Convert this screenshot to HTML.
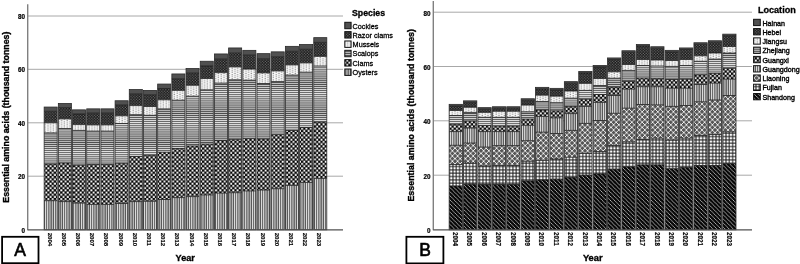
<!DOCTYPE html><html><head><meta charset="utf-8"><style>html,body{margin:0;padding:0;background:#fff;}svg{display:block;}text{font-family:"Liberation Sans",sans-serif;}svg{will-change:transform;}</style></head><body>
<svg width="800" height="264" viewBox="0 0 800 264">
<defs>
<pattern id="pCock" patternUnits="userSpaceOnUse" width="2" height="2"><rect width="2" height="2" fill="#505050"/></pattern>
<pattern id="pRaz" patternUnits="userSpaceOnUse" width="2.8" height="2.7"><rect width="2.8" height="2.7" fill="#121212"/><rect x="0.2" y="0.2" width="1.05" height="1.05" fill="#909090"/><rect x="1.6" y="1.55" width="1.05" height="1.05" fill="#909090"/></pattern>
<pattern id="pMus" patternUnits="userSpaceOnUse" width="5.5" height="4.2"><rect width="5.5" height="4.2" fill="#f8f8f8"/><rect x="0.6" y="0.5" width="1.1" height="1" fill="#7a7a7a"/><rect x="0.6" y="2.6" width="1.1" height="1" fill="#7a7a7a"/><rect x="3.35" y="1.55" width="1.1" height="1" fill="#7a7a7a"/><rect x="3.35" y="3.65" width="1.1" height="1" fill="#7a7a7a"/><rect x="3.35" y="-0.55" width="1.1" height="1" fill="#7a7a7a"/></pattern>
<pattern id="pSca" patternUnits="userSpaceOnUse" width="2" height="2.07"><rect width="2" height="2.07" fill="#e4e4e4"/><rect y="1.03" width="2" height="1.04" fill="#4c4c4c"/></pattern>
<pattern id="pClm" patternUnits="userSpaceOnUse" width="4.3" height="4.4"><rect width="4.3" height="4.4" fill="#050505"/><rect x="0.15" y="0.15" width="1.95" height="1.95" fill="#fcfcfc"/><rect x="2.3" y="2.35" width="1.95" height="1.95" fill="#fcfcfc"/></pattern>
<pattern id="pOys" patternUnits="userSpaceOnUse" width="2.25" height="2"><rect width="2.25" height="2" fill="#525252"/><rect width="1" height="2" fill="#ebebeb"/></pattern>
<pattern id="pLia" patternUnits="userSpaceOnUse" width="5.2" height="5.2"><rect width="5.2" height="5.2" fill="#555555"/><path d="M-1,-1L6.2,6.2M6.2,-1L-1,6.2" stroke="#ffffff" stroke-width="0.8"/></pattern>
<pattern id="pFuj" patternUnits="userSpaceOnUse" width="3.33" height="3.33"><rect width="3.33" height="3.33" fill="#202020"/><rect x="0.55" y="0.55" width="2.3" height="2.3" fill="#fcfcfc"/></pattern>
<pattern id="pSha" patternUnits="userSpaceOnUse" width="4.1" height="4.1"><rect width="4.1" height="4.1" fill="#080808"/><path d="M-1,-1L5.1,5.1M-1,3.1L1,5.1M3.1,-1L5.1,1" stroke="#d4d4d4" stroke-width="0.72"/></pattern>
</defs>
<rect width="800" height="264" fill="#fff"/>
<line x1="27.7" y1="16" x2="343" y2="16" stroke="#a8a8a8" stroke-width="1"/><line x1="27.7" y1="69.3" x2="343" y2="69.3" stroke="#a8a8a8" stroke-width="1"/><line x1="27.7" y1="122.8" x2="343" y2="122.8" stroke="#a8a8a8" stroke-width="1"/><line x1="27.7" y1="176.2" x2="343" y2="176.2" stroke="#a8a8a8" stroke-width="1"/><rect x="44.15" y="107.05" width="13.04" height="4.25" fill="url(#pCock)"/><rect x="44.15" y="111.3" width="13.04" height="11.5" fill="url(#pRaz)"/><rect x="44.15" y="122.8" width="13.04" height="10.1" fill="url(#pMus)"/><rect x="44.15" y="132.9" width="13.04" height="31.1" fill="url(#pSca)"/><rect x="44.15" y="164" width="13.04" height="36.7" fill="url(#pClm)"/><rect x="44.15" y="200.7" width="13.04" height="29.1" fill="url(#pOys)"/><line x1="44.15" y1="111.3" x2="57.19" y2="111.3" stroke="#1a1a1a" stroke-width="0.8"/><line x1="44.15" y1="122.8" x2="57.19" y2="122.8" stroke="#1a1a1a" stroke-width="0.8"/><line x1="44.15" y1="132.9" x2="57.19" y2="132.9" stroke="#1a1a1a" stroke-width="0.8"/><line x1="44.15" y1="164" x2="57.19" y2="164" stroke="#1a1a1a" stroke-width="0.8"/><line x1="44.15" y1="200.7" x2="57.19" y2="200.7" stroke="#1a1a1a" stroke-width="0.8"/><rect x="44.15" y="107.05" width="13.04" height="122.75" fill="none" stroke="#2a2a2a" stroke-width="0.8"/><rect x="58.34" y="103.45" width="13.04" height="4.15" fill="url(#pCock)"/><rect x="58.34" y="107.6" width="13.04" height="11.3" fill="url(#pRaz)"/><rect x="58.34" y="118.9" width="13.04" height="9.6" fill="url(#pMus)"/><rect x="58.34" y="128.5" width="13.04" height="34.5" fill="url(#pSca)"/><rect x="58.34" y="163" width="13.04" height="38.6" fill="url(#pClm)"/><rect x="58.34" y="201.6" width="13.04" height="28.2" fill="url(#pOys)"/><line x1="58.34" y1="107.6" x2="71.38" y2="107.6" stroke="#1a1a1a" stroke-width="0.8"/><line x1="58.34" y1="118.9" x2="71.38" y2="118.9" stroke="#1a1a1a" stroke-width="0.8"/><line x1="58.34" y1="128.5" x2="71.38" y2="128.5" stroke="#1a1a1a" stroke-width="0.8"/><line x1="58.34" y1="163" x2="71.38" y2="163" stroke="#1a1a1a" stroke-width="0.8"/><line x1="58.34" y1="201.6" x2="71.38" y2="201.6" stroke="#1a1a1a" stroke-width="0.8"/><rect x="58.34" y="103.45" width="13.04" height="126.35" fill="none" stroke="#2a2a2a" stroke-width="0.8"/><rect x="72.53" y="109.85" width="13.04" height="4.15" fill="url(#pCock)"/><rect x="72.53" y="114" width="13.04" height="10.6" fill="url(#pRaz)"/><rect x="72.53" y="124.6" width="13.04" height="5.8" fill="url(#pMus)"/><rect x="72.53" y="130.4" width="13.04" height="34.7" fill="url(#pSca)"/><rect x="72.53" y="165.1" width="13.04" height="38" fill="url(#pClm)"/><rect x="72.53" y="203.1" width="13.04" height="26.7" fill="url(#pOys)"/><line x1="72.53" y1="114" x2="85.57" y2="114" stroke="#1a1a1a" stroke-width="0.8"/><line x1="72.53" y1="124.6" x2="85.57" y2="124.6" stroke="#1a1a1a" stroke-width="0.8"/><line x1="72.53" y1="130.4" x2="85.57" y2="130.4" stroke="#1a1a1a" stroke-width="0.8"/><line x1="72.53" y1="165.1" x2="85.57" y2="165.1" stroke="#1a1a1a" stroke-width="0.8"/><line x1="72.53" y1="203.1" x2="85.57" y2="203.1" stroke="#1a1a1a" stroke-width="0.8"/><rect x="72.53" y="109.85" width="13.04" height="119.95" fill="none" stroke="#2a2a2a" stroke-width="0.8"/><rect x="86.72" y="108.85" width="13.04" height="4.25" fill="url(#pCock)"/><rect x="86.72" y="113.1" width="13.04" height="11.8" fill="url(#pRaz)"/><rect x="86.72" y="124.9" width="13.04" height="6.2" fill="url(#pMus)"/><rect x="86.72" y="131.1" width="13.04" height="33.3" fill="url(#pSca)"/><rect x="86.72" y="164.4" width="13.04" height="40" fill="url(#pClm)"/><rect x="86.72" y="204.4" width="13.04" height="25.4" fill="url(#pOys)"/><line x1="86.72" y1="113.1" x2="99.76" y2="113.1" stroke="#1a1a1a" stroke-width="0.8"/><line x1="86.72" y1="124.9" x2="99.76" y2="124.9" stroke="#1a1a1a" stroke-width="0.8"/><line x1="86.72" y1="131.1" x2="99.76" y2="131.1" stroke="#1a1a1a" stroke-width="0.8"/><line x1="86.72" y1="164.4" x2="99.76" y2="164.4" stroke="#1a1a1a" stroke-width="0.8"/><line x1="86.72" y1="204.4" x2="99.76" y2="204.4" stroke="#1a1a1a" stroke-width="0.8"/><rect x="86.72" y="108.85" width="13.04" height="120.95" fill="none" stroke="#2a2a2a" stroke-width="0.8"/><rect x="100.91" y="108.85" width="13.04" height="4.25" fill="url(#pCock)"/><rect x="100.91" y="113.1" width="13.04" height="11.8" fill="url(#pRaz)"/><rect x="100.91" y="124.9" width="13.04" height="6.2" fill="url(#pMus)"/><rect x="100.91" y="131.1" width="13.04" height="33.3" fill="url(#pSca)"/><rect x="100.91" y="164.4" width="13.04" height="40" fill="url(#pClm)"/><rect x="100.91" y="204.4" width="13.04" height="25.4" fill="url(#pOys)"/><line x1="100.91" y1="113.1" x2="113.95" y2="113.1" stroke="#1a1a1a" stroke-width="0.8"/><line x1="100.91" y1="124.9" x2="113.95" y2="124.9" stroke="#1a1a1a" stroke-width="0.8"/><line x1="100.91" y1="131.1" x2="113.95" y2="131.1" stroke="#1a1a1a" stroke-width="0.8"/><line x1="100.91" y1="164.4" x2="113.95" y2="164.4" stroke="#1a1a1a" stroke-width="0.8"/><line x1="100.91" y1="204.4" x2="113.95" y2="204.4" stroke="#1a1a1a" stroke-width="0.8"/><rect x="100.91" y="108.85" width="13.04" height="120.95" fill="none" stroke="#2a2a2a" stroke-width="0.8"/><rect x="115.1" y="100.75" width="13.04" height="4.15" fill="url(#pCock)"/><rect x="115.1" y="104.9" width="13.04" height="10.9" fill="url(#pRaz)"/><rect x="115.1" y="115.8" width="13.04" height="7.7" fill="url(#pMus)"/><rect x="115.1" y="123.5" width="13.04" height="39.8" fill="url(#pSca)"/><rect x="115.1" y="163.3" width="13.04" height="40.2" fill="url(#pClm)"/><rect x="115.1" y="203.5" width="13.04" height="26.3" fill="url(#pOys)"/><line x1="115.1" y1="104.9" x2="128.14" y2="104.9" stroke="#1a1a1a" stroke-width="0.8"/><line x1="115.1" y1="115.8" x2="128.14" y2="115.8" stroke="#1a1a1a" stroke-width="0.8"/><line x1="115.1" y1="123.5" x2="128.14" y2="123.5" stroke="#1a1a1a" stroke-width="0.8"/><line x1="115.1" y1="163.3" x2="128.14" y2="163.3" stroke="#1a1a1a" stroke-width="0.8"/><line x1="115.1" y1="203.5" x2="128.14" y2="203.5" stroke="#1a1a1a" stroke-width="0.8"/><rect x="115.1" y="100.75" width="13.04" height="129.05" fill="none" stroke="#2a2a2a" stroke-width="0.8"/><rect x="129.29" y="89.55" width="13.04" height="4.25" fill="url(#pCock)"/><rect x="129.29" y="93.8" width="13.04" height="11.8" fill="url(#pRaz)"/><rect x="129.29" y="105.6" width="13.04" height="9.1" fill="url(#pMus)"/><rect x="129.29" y="114.7" width="13.04" height="41.8" fill="url(#pSca)"/><rect x="129.29" y="156.5" width="13.04" height="45.1" fill="url(#pClm)"/><rect x="129.29" y="201.6" width="13.04" height="28.2" fill="url(#pOys)"/><line x1="129.29" y1="93.8" x2="142.33" y2="93.8" stroke="#1a1a1a" stroke-width="0.8"/><line x1="129.29" y1="105.6" x2="142.33" y2="105.6" stroke="#1a1a1a" stroke-width="0.8"/><line x1="129.29" y1="114.7" x2="142.33" y2="114.7" stroke="#1a1a1a" stroke-width="0.8"/><line x1="129.29" y1="156.5" x2="142.33" y2="156.5" stroke="#1a1a1a" stroke-width="0.8"/><line x1="129.29" y1="201.6" x2="142.33" y2="201.6" stroke="#1a1a1a" stroke-width="0.8"/><rect x="129.29" y="89.55" width="13.04" height="140.25" fill="none" stroke="#2a2a2a" stroke-width="0.8"/><rect x="143.48" y="90.45" width="13.04" height="4.25" fill="url(#pCock)"/><rect x="143.48" y="94.7" width="13.04" height="11.8" fill="url(#pRaz)"/><rect x="143.48" y="106.5" width="13.04" height="8.8" fill="url(#pMus)"/><rect x="143.48" y="115.3" width="13.04" height="40" fill="url(#pSca)"/><rect x="143.48" y="155.3" width="13.04" height="46" fill="url(#pClm)"/><rect x="143.48" y="201.3" width="13.04" height="28.5" fill="url(#pOys)"/><line x1="143.48" y1="94.7" x2="156.52" y2="94.7" stroke="#1a1a1a" stroke-width="0.8"/><line x1="143.48" y1="106.5" x2="156.52" y2="106.5" stroke="#1a1a1a" stroke-width="0.8"/><line x1="143.48" y1="115.3" x2="156.52" y2="115.3" stroke="#1a1a1a" stroke-width="0.8"/><line x1="143.48" y1="155.3" x2="156.52" y2="155.3" stroke="#1a1a1a" stroke-width="0.8"/><line x1="143.48" y1="201.3" x2="156.52" y2="201.3" stroke="#1a1a1a" stroke-width="0.8"/><rect x="143.48" y="90.45" width="13.04" height="139.35" fill="none" stroke="#2a2a2a" stroke-width="0.8"/><rect x="157.67" y="84.05" width="13.04" height="4.45" fill="url(#pCock)"/><rect x="157.67" y="88.5" width="13.04" height="11.3" fill="url(#pRaz)"/><rect x="157.67" y="99.8" width="13.04" height="9.1" fill="url(#pMus)"/><rect x="157.67" y="108.9" width="13.04" height="43.3" fill="url(#pSca)"/><rect x="157.67" y="152.2" width="13.04" height="47.3" fill="url(#pClm)"/><rect x="157.67" y="199.5" width="13.04" height="30.3" fill="url(#pOys)"/><line x1="157.67" y1="88.5" x2="170.71" y2="88.5" stroke="#1a1a1a" stroke-width="0.8"/><line x1="157.67" y1="99.8" x2="170.71" y2="99.8" stroke="#1a1a1a" stroke-width="0.8"/><line x1="157.67" y1="108.9" x2="170.71" y2="108.9" stroke="#1a1a1a" stroke-width="0.8"/><line x1="157.67" y1="152.2" x2="170.71" y2="152.2" stroke="#1a1a1a" stroke-width="0.8"/><line x1="157.67" y1="199.5" x2="170.71" y2="199.5" stroke="#1a1a1a" stroke-width="0.8"/><rect x="157.67" y="84.05" width="13.04" height="145.75" fill="none" stroke="#2a2a2a" stroke-width="0.8"/><rect x="171.86" y="73.95" width="13.04" height="4.75" fill="url(#pCock)"/><rect x="171.86" y="78.7" width="13.04" height="11.7" fill="url(#pRaz)"/><rect x="171.86" y="90.4" width="13.04" height="9.8" fill="url(#pMus)"/><rect x="171.86" y="100.2" width="13.04" height="48.3" fill="url(#pSca)"/><rect x="171.86" y="148.5" width="13.04" height="49.1" fill="url(#pClm)"/><rect x="171.86" y="197.6" width="13.04" height="32.2" fill="url(#pOys)"/><line x1="171.86" y1="78.7" x2="184.9" y2="78.7" stroke="#1a1a1a" stroke-width="0.8"/><line x1="171.86" y1="90.4" x2="184.9" y2="90.4" stroke="#1a1a1a" stroke-width="0.8"/><line x1="171.86" y1="100.2" x2="184.9" y2="100.2" stroke="#1a1a1a" stroke-width="0.8"/><line x1="171.86" y1="148.5" x2="184.9" y2="148.5" stroke="#1a1a1a" stroke-width="0.8"/><line x1="171.86" y1="197.6" x2="184.9" y2="197.6" stroke="#1a1a1a" stroke-width="0.8"/><rect x="171.86" y="73.95" width="13.04" height="155.85" fill="none" stroke="#2a2a2a" stroke-width="0.8"/><rect x="186.05" y="68.55" width="13.04" height="4.55" fill="url(#pCock)"/><rect x="186.05" y="73.1" width="13.04" height="12.2" fill="url(#pRaz)"/><rect x="186.05" y="85.3" width="13.04" height="10.9" fill="url(#pMus)"/><rect x="186.05" y="96.2" width="13.04" height="49.8" fill="url(#pSca)"/><rect x="186.05" y="146" width="13.04" height="50.6" fill="url(#pClm)"/><rect x="186.05" y="196.6" width="13.04" height="33.2" fill="url(#pOys)"/><line x1="186.05" y1="73.1" x2="199.09" y2="73.1" stroke="#1a1a1a" stroke-width="0.8"/><line x1="186.05" y1="85.3" x2="199.09" y2="85.3" stroke="#1a1a1a" stroke-width="0.8"/><line x1="186.05" y1="96.2" x2="199.09" y2="96.2" stroke="#1a1a1a" stroke-width="0.8"/><line x1="186.05" y1="146" x2="199.09" y2="146" stroke="#1a1a1a" stroke-width="0.8"/><line x1="186.05" y1="196.6" x2="199.09" y2="196.6" stroke="#1a1a1a" stroke-width="0.8"/><rect x="186.05" y="68.55" width="13.04" height="161.25" fill="none" stroke="#2a2a2a" stroke-width="0.8"/><rect x="200.24" y="61.25" width="13.04" height="4.75" fill="url(#pCock)"/><rect x="200.24" y="66" width="13.04" height="12.5" fill="url(#pRaz)"/><rect x="200.24" y="78.5" width="13.04" height="11.3" fill="url(#pMus)"/><rect x="200.24" y="89.8" width="13.04" height="54.4" fill="url(#pSca)"/><rect x="200.24" y="144.2" width="13.04" height="50.7" fill="url(#pClm)"/><rect x="200.24" y="194.9" width="13.04" height="34.9" fill="url(#pOys)"/><line x1="200.24" y1="66" x2="213.28" y2="66" stroke="#1a1a1a" stroke-width="0.8"/><line x1="200.24" y1="78.5" x2="213.28" y2="78.5" stroke="#1a1a1a" stroke-width="0.8"/><line x1="200.24" y1="89.8" x2="213.28" y2="89.8" stroke="#1a1a1a" stroke-width="0.8"/><line x1="200.24" y1="144.2" x2="213.28" y2="144.2" stroke="#1a1a1a" stroke-width="0.8"/><line x1="200.24" y1="194.9" x2="213.28" y2="194.9" stroke="#1a1a1a" stroke-width="0.8"/><rect x="200.24" y="61.25" width="13.04" height="168.55" fill="none" stroke="#2a2a2a" stroke-width="0.8"/><rect x="214.43" y="53.95" width="13.04" height="5.15" fill="url(#pCock)"/><rect x="214.43" y="59.1" width="13.04" height="13.6" fill="url(#pRaz)"/><rect x="214.43" y="72.7" width="13.04" height="10.4" fill="url(#pMus)"/><rect x="214.43" y="83.1" width="13.04" height="57.4" fill="url(#pSca)"/><rect x="214.43" y="140.5" width="13.04" height="52.6" fill="url(#pClm)"/><rect x="214.43" y="193.1" width="13.04" height="36.7" fill="url(#pOys)"/><line x1="214.43" y1="59.1" x2="227.47" y2="59.1" stroke="#1a1a1a" stroke-width="0.8"/><line x1="214.43" y1="72.7" x2="227.47" y2="72.7" stroke="#1a1a1a" stroke-width="0.8"/><line x1="214.43" y1="83.1" x2="227.47" y2="83.1" stroke="#1a1a1a" stroke-width="0.8"/><line x1="214.43" y1="140.5" x2="227.47" y2="140.5" stroke="#1a1a1a" stroke-width="0.8"/><line x1="214.43" y1="193.1" x2="227.47" y2="193.1" stroke="#1a1a1a" stroke-width="0.8"/><rect x="214.43" y="53.95" width="13.04" height="175.85" fill="none" stroke="#2a2a2a" stroke-width="0.8"/><rect x="228.62" y="47.95" width="13.04" height="5.15" fill="url(#pCock)"/><rect x="228.62" y="53.1" width="13.04" height="13.8" fill="url(#pRaz)"/><rect x="228.62" y="66.9" width="13.04" height="12.9" fill="url(#pMus)"/><rect x="228.62" y="79.8" width="13.04" height="59.8" fill="url(#pSca)"/><rect x="228.62" y="139.6" width="13.04" height="53.1" fill="url(#pClm)"/><rect x="228.62" y="192.7" width="13.04" height="37.1" fill="url(#pOys)"/><line x1="228.62" y1="53.1" x2="241.66" y2="53.1" stroke="#1a1a1a" stroke-width="0.8"/><line x1="228.62" y1="66.9" x2="241.66" y2="66.9" stroke="#1a1a1a" stroke-width="0.8"/><line x1="228.62" y1="79.8" x2="241.66" y2="79.8" stroke="#1a1a1a" stroke-width="0.8"/><line x1="228.62" y1="139.6" x2="241.66" y2="139.6" stroke="#1a1a1a" stroke-width="0.8"/><line x1="228.62" y1="192.7" x2="241.66" y2="192.7" stroke="#1a1a1a" stroke-width="0.8"/><rect x="228.62" y="47.95" width="13.04" height="181.85" fill="none" stroke="#2a2a2a" stroke-width="0.8"/><rect x="242.81" y="50.35" width="13.04" height="4.75" fill="url(#pCock)"/><rect x="242.81" y="55.1" width="13.04" height="14" fill="url(#pRaz)"/><rect x="242.81" y="69.1" width="13.04" height="11.1" fill="url(#pMus)"/><rect x="242.81" y="80.2" width="13.04" height="58.5" fill="url(#pSca)"/><rect x="242.81" y="138.7" width="13.04" height="52.2" fill="url(#pClm)"/><rect x="242.81" y="190.9" width="13.04" height="38.9" fill="url(#pOys)"/><line x1="242.81" y1="55.1" x2="255.85" y2="55.1" stroke="#1a1a1a" stroke-width="0.8"/><line x1="242.81" y1="69.1" x2="255.85" y2="69.1" stroke="#1a1a1a" stroke-width="0.8"/><line x1="242.81" y1="80.2" x2="255.85" y2="80.2" stroke="#1a1a1a" stroke-width="0.8"/><line x1="242.81" y1="138.7" x2="255.85" y2="138.7" stroke="#1a1a1a" stroke-width="0.8"/><line x1="242.81" y1="190.9" x2="255.85" y2="190.9" stroke="#1a1a1a" stroke-width="0.8"/><rect x="242.81" y="50.35" width="13.04" height="179.45" fill="none" stroke="#2a2a2a" stroke-width="0.8"/><rect x="257" y="53.65" width="13.04" height="5.05" fill="url(#pCock)"/><rect x="257" y="58.7" width="13.04" height="14.2" fill="url(#pRaz)"/><rect x="257" y="72.9" width="13.04" height="10.6" fill="url(#pMus)"/><rect x="257" y="83.5" width="13.04" height="55.6" fill="url(#pSca)"/><rect x="257" y="139.1" width="13.04" height="50.9" fill="url(#pClm)"/><rect x="257" y="190" width="13.04" height="39.8" fill="url(#pOys)"/><line x1="257" y1="58.7" x2="270.04" y2="58.7" stroke="#1a1a1a" stroke-width="0.8"/><line x1="257" y1="72.9" x2="270.04" y2="72.9" stroke="#1a1a1a" stroke-width="0.8"/><line x1="257" y1="83.5" x2="270.04" y2="83.5" stroke="#1a1a1a" stroke-width="0.8"/><line x1="257" y1="139.1" x2="270.04" y2="139.1" stroke="#1a1a1a" stroke-width="0.8"/><line x1="257" y1="190" x2="270.04" y2="190" stroke="#1a1a1a" stroke-width="0.8"/><rect x="257" y="53.65" width="13.04" height="176.15" fill="none" stroke="#2a2a2a" stroke-width="0.8"/><rect x="271.19" y="51.85" width="13.04" height="4.85" fill="url(#pCock)"/><rect x="271.19" y="56.7" width="13.04" height="14.2" fill="url(#pRaz)"/><rect x="271.19" y="70.9" width="13.04" height="10.7" fill="url(#pMus)"/><rect x="271.19" y="81.6" width="13.04" height="53.1" fill="url(#pSca)"/><rect x="271.19" y="134.7" width="13.04" height="54" fill="url(#pClm)"/><rect x="271.19" y="188.7" width="13.04" height="41.1" fill="url(#pOys)"/><line x1="271.19" y1="56.7" x2="284.23" y2="56.7" stroke="#1a1a1a" stroke-width="0.8"/><line x1="271.19" y1="70.9" x2="284.23" y2="70.9" stroke="#1a1a1a" stroke-width="0.8"/><line x1="271.19" y1="81.6" x2="284.23" y2="81.6" stroke="#1a1a1a" stroke-width="0.8"/><line x1="271.19" y1="134.7" x2="284.23" y2="134.7" stroke="#1a1a1a" stroke-width="0.8"/><line x1="271.19" y1="188.7" x2="284.23" y2="188.7" stroke="#1a1a1a" stroke-width="0.8"/><rect x="271.19" y="51.85" width="13.04" height="177.95" fill="none" stroke="#2a2a2a" stroke-width="0.8"/><rect x="285.38" y="46.35" width="13.04" height="4.95" fill="url(#pCock)"/><rect x="285.38" y="51.3" width="13.04" height="13.6" fill="url(#pRaz)"/><rect x="285.38" y="64.9" width="13.04" height="10.2" fill="url(#pMus)"/><rect x="285.38" y="75.1" width="13.04" height="55.4" fill="url(#pSca)"/><rect x="285.38" y="130.5" width="13.04" height="54.9" fill="url(#pClm)"/><rect x="285.38" y="185.4" width="13.04" height="44.4" fill="url(#pOys)"/><line x1="285.38" y1="51.3" x2="298.42" y2="51.3" stroke="#1a1a1a" stroke-width="0.8"/><line x1="285.38" y1="64.9" x2="298.42" y2="64.9" stroke="#1a1a1a" stroke-width="0.8"/><line x1="285.38" y1="75.1" x2="298.42" y2="75.1" stroke="#1a1a1a" stroke-width="0.8"/><line x1="285.38" y1="130.5" x2="298.42" y2="130.5" stroke="#1a1a1a" stroke-width="0.8"/><line x1="285.38" y1="185.4" x2="298.42" y2="185.4" stroke="#1a1a1a" stroke-width="0.8"/><rect x="285.38" y="46.35" width="13.04" height="183.45" fill="none" stroke="#2a2a2a" stroke-width="0.8"/><rect x="299.57" y="44.55" width="13.04" height="4.75" fill="url(#pCock)"/><rect x="299.57" y="49.3" width="13.04" height="13.6" fill="url(#pRaz)"/><rect x="299.57" y="62.9" width="13.04" height="9.3" fill="url(#pMus)"/><rect x="299.57" y="72.2" width="13.04" height="55.3" fill="url(#pSca)"/><rect x="299.57" y="127.5" width="13.04" height="54.9" fill="url(#pClm)"/><rect x="299.57" y="182.4" width="13.04" height="47.4" fill="url(#pOys)"/><line x1="299.57" y1="49.3" x2="312.61" y2="49.3" stroke="#1a1a1a" stroke-width="0.8"/><line x1="299.57" y1="62.9" x2="312.61" y2="62.9" stroke="#1a1a1a" stroke-width="0.8"/><line x1="299.57" y1="72.2" x2="312.61" y2="72.2" stroke="#1a1a1a" stroke-width="0.8"/><line x1="299.57" y1="127.5" x2="312.61" y2="127.5" stroke="#1a1a1a" stroke-width="0.8"/><line x1="299.57" y1="182.4" x2="312.61" y2="182.4" stroke="#1a1a1a" stroke-width="0.8"/><rect x="299.57" y="44.55" width="13.04" height="185.25" fill="none" stroke="#2a2a2a" stroke-width="0.8"/><rect x="313.76" y="37.65" width="13.04" height="4.75" fill="url(#pCock)"/><rect x="313.76" y="42.4" width="13.04" height="14" fill="url(#pRaz)"/><rect x="313.76" y="56.4" width="13.04" height="9.6" fill="url(#pMus)"/><rect x="313.76" y="66" width="13.04" height="56.2" fill="url(#pSca)"/><rect x="313.76" y="122.2" width="13.04" height="56.2" fill="url(#pClm)"/><rect x="313.76" y="178.4" width="13.04" height="51.4" fill="url(#pOys)"/><line x1="313.76" y1="42.4" x2="326.8" y2="42.4" stroke="#1a1a1a" stroke-width="0.8"/><line x1="313.76" y1="56.4" x2="326.8" y2="56.4" stroke="#1a1a1a" stroke-width="0.8"/><line x1="313.76" y1="66" x2="326.8" y2="66" stroke="#1a1a1a" stroke-width="0.8"/><line x1="313.76" y1="122.2" x2="326.8" y2="122.2" stroke="#1a1a1a" stroke-width="0.8"/><line x1="313.76" y1="178.4" x2="326.8" y2="178.4" stroke="#1a1a1a" stroke-width="0.8"/><rect x="313.76" y="37.65" width="13.04" height="192.15" fill="none" stroke="#2a2a2a" stroke-width="0.8"/><line x1="27.7" y1="4.2" x2="27.7" y2="230.2" stroke="#808080" stroke-width="1.4"/><line x1="27.7" y1="229.8" x2="343" y2="229.8" stroke="#505050" stroke-width="1.2"/>
<line x1="433.3" y1="12.2" x2="752" y2="12.2" stroke="#a8a8a8" stroke-width="1"/><line x1="433.3" y1="66.5" x2="752" y2="66.5" stroke="#a8a8a8" stroke-width="1"/><line x1="433.3" y1="120.8" x2="752" y2="120.8" stroke="#a8a8a8" stroke-width="1"/><line x1="433.3" y1="175.2" x2="752" y2="175.2" stroke="#a8a8a8" stroke-width="1"/><rect x="449.15" y="104.35" width="13.25" height="1.5" fill="url(#pCock)"/><rect x="449.15" y="105.85" width="13.25" height="4.65" fill="url(#pRaz)"/><rect x="449.15" y="110.5" width="13.25" height="5" fill="url(#pMus)"/><rect x="449.15" y="115.5" width="13.25" height="8.8" fill="url(#pSca)"/><rect x="449.15" y="124.3" width="13.25" height="7.3" fill="url(#pClm)"/><rect x="449.15" y="131.6" width="13.25" height="13.7" fill="url(#pOys)"/><rect x="449.15" y="145.3" width="13.25" height="19.2" fill="url(#pLia)"/><rect x="449.15" y="164.5" width="13.25" height="21.5" fill="url(#pFuj)"/><rect x="449.15" y="186" width="13.25" height="43.8" fill="url(#pSha)"/><line x1="449.15" y1="105.85" x2="462.4" y2="105.85" stroke="#1a1a1a" stroke-width="0.8"/><line x1="449.15" y1="110.5" x2="462.4" y2="110.5" stroke="#1a1a1a" stroke-width="0.8"/><line x1="449.15" y1="115.5" x2="462.4" y2="115.5" stroke="#1a1a1a" stroke-width="0.8"/><line x1="449.15" y1="124.3" x2="462.4" y2="124.3" stroke="#1a1a1a" stroke-width="0.8"/><line x1="449.15" y1="131.6" x2="462.4" y2="131.6" stroke="#1a1a1a" stroke-width="0.8"/><line x1="449.15" y1="145.3" x2="462.4" y2="145.3" stroke="#1a1a1a" stroke-width="0.8"/><line x1="449.15" y1="164.5" x2="462.4" y2="164.5" stroke="#1a1a1a" stroke-width="0.8"/><line x1="449.15" y1="186" x2="462.4" y2="186" stroke="#1a1a1a" stroke-width="0.8"/><rect x="449.15" y="104.35" width="13.25" height="125.45" fill="none" stroke="#2a2a2a" stroke-width="0.8"/><rect x="463.55" y="100.85" width="13.25" height="1.5" fill="url(#pCock)"/><rect x="463.55" y="102.35" width="13.25" height="4.95" fill="url(#pRaz)"/><rect x="463.55" y="107.3" width="13.25" height="5.1" fill="url(#pMus)"/><rect x="463.55" y="112.4" width="13.25" height="8.5" fill="url(#pSca)"/><rect x="463.55" y="120.9" width="13.25" height="7.1" fill="url(#pClm)"/><rect x="463.55" y="128" width="13.25" height="15.1" fill="url(#pOys)"/><rect x="463.55" y="143.1" width="13.25" height="20" fill="url(#pLia)"/><rect x="463.55" y="163.1" width="13.25" height="21.1" fill="url(#pFuj)"/><rect x="463.55" y="184.2" width="13.25" height="45.6" fill="url(#pSha)"/><line x1="463.55" y1="102.35" x2="476.8" y2="102.35" stroke="#1a1a1a" stroke-width="0.8"/><line x1="463.55" y1="107.3" x2="476.8" y2="107.3" stroke="#1a1a1a" stroke-width="0.8"/><line x1="463.55" y1="112.4" x2="476.8" y2="112.4" stroke="#1a1a1a" stroke-width="0.8"/><line x1="463.55" y1="120.9" x2="476.8" y2="120.9" stroke="#1a1a1a" stroke-width="0.8"/><line x1="463.55" y1="128" x2="476.8" y2="128" stroke="#1a1a1a" stroke-width="0.8"/><line x1="463.55" y1="143.1" x2="476.8" y2="143.1" stroke="#1a1a1a" stroke-width="0.8"/><line x1="463.55" y1="163.1" x2="476.8" y2="163.1" stroke="#1a1a1a" stroke-width="0.8"/><line x1="463.55" y1="184.2" x2="476.8" y2="184.2" stroke="#1a1a1a" stroke-width="0.8"/><rect x="463.55" y="100.85" width="13.25" height="128.95" fill="none" stroke="#2a2a2a" stroke-width="0.8"/><rect x="477.95" y="107.65" width="13.25" height="1.5" fill="url(#pCock)"/><rect x="477.95" y="109.15" width="13.25" height="3.25" fill="url(#pRaz)"/><rect x="477.95" y="112.4" width="13.25" height="4.9" fill="url(#pMus)"/><rect x="477.95" y="117.3" width="13.25" height="8.3" fill="url(#pSca)"/><rect x="477.95" y="125.6" width="13.25" height="6" fill="url(#pClm)"/><rect x="477.95" y="131.6" width="13.25" height="15.5" fill="url(#pOys)"/><rect x="477.95" y="147.1" width="13.25" height="18.9" fill="url(#pLia)"/><rect x="477.95" y="166" width="13.25" height="18.5" fill="url(#pFuj)"/><rect x="477.95" y="184.5" width="13.25" height="45.3" fill="url(#pSha)"/><line x1="477.95" y1="109.15" x2="491.2" y2="109.15" stroke="#1a1a1a" stroke-width="0.8"/><line x1="477.95" y1="112.4" x2="491.2" y2="112.4" stroke="#1a1a1a" stroke-width="0.8"/><line x1="477.95" y1="117.3" x2="491.2" y2="117.3" stroke="#1a1a1a" stroke-width="0.8"/><line x1="477.95" y1="125.6" x2="491.2" y2="125.6" stroke="#1a1a1a" stroke-width="0.8"/><line x1="477.95" y1="131.6" x2="491.2" y2="131.6" stroke="#1a1a1a" stroke-width="0.8"/><line x1="477.95" y1="147.1" x2="491.2" y2="147.1" stroke="#1a1a1a" stroke-width="0.8"/><line x1="477.95" y1="166" x2="491.2" y2="166" stroke="#1a1a1a" stroke-width="0.8"/><line x1="477.95" y1="184.5" x2="491.2" y2="184.5" stroke="#1a1a1a" stroke-width="0.8"/><rect x="477.95" y="107.65" width="13.25" height="122.15" fill="none" stroke="#2a2a2a" stroke-width="0.8"/><rect x="492.35" y="106.75" width="13.25" height="1.5" fill="url(#pCock)"/><rect x="492.35" y="108.25" width="13.25" height="3.05" fill="url(#pRaz)"/><rect x="492.35" y="111.3" width="13.25" height="6" fill="url(#pMus)"/><rect x="492.35" y="117.3" width="13.25" height="8.9" fill="url(#pSca)"/><rect x="492.35" y="126.2" width="13.25" height="5.4" fill="url(#pClm)"/><rect x="492.35" y="131.6" width="13.25" height="14" fill="url(#pOys)"/><rect x="492.35" y="145.6" width="13.25" height="19.9" fill="url(#pLia)"/><rect x="492.35" y="165.5" width="13.25" height="19" fill="url(#pFuj)"/><rect x="492.35" y="184.5" width="13.25" height="45.3" fill="url(#pSha)"/><line x1="492.35" y1="108.25" x2="505.6" y2="108.25" stroke="#1a1a1a" stroke-width="0.8"/><line x1="492.35" y1="111.3" x2="505.6" y2="111.3" stroke="#1a1a1a" stroke-width="0.8"/><line x1="492.35" y1="117.3" x2="505.6" y2="117.3" stroke="#1a1a1a" stroke-width="0.8"/><line x1="492.35" y1="126.2" x2="505.6" y2="126.2" stroke="#1a1a1a" stroke-width="0.8"/><line x1="492.35" y1="131.6" x2="505.6" y2="131.6" stroke="#1a1a1a" stroke-width="0.8"/><line x1="492.35" y1="145.6" x2="505.6" y2="145.6" stroke="#1a1a1a" stroke-width="0.8"/><line x1="492.35" y1="165.5" x2="505.6" y2="165.5" stroke="#1a1a1a" stroke-width="0.8"/><line x1="492.35" y1="184.5" x2="505.6" y2="184.5" stroke="#1a1a1a" stroke-width="0.8"/><rect x="492.35" y="106.75" width="13.25" height="123.05" fill="none" stroke="#2a2a2a" stroke-width="0.8"/><rect x="506.75" y="106.75" width="13.25" height="1.5" fill="url(#pCock)"/><rect x="506.75" y="108.25" width="13.25" height="3.05" fill="url(#pRaz)"/><rect x="506.75" y="111.3" width="13.25" height="6" fill="url(#pMus)"/><rect x="506.75" y="117.3" width="13.25" height="8.9" fill="url(#pSca)"/><rect x="506.75" y="126.2" width="13.25" height="5.4" fill="url(#pClm)"/><rect x="506.75" y="131.6" width="13.25" height="14" fill="url(#pOys)"/><rect x="506.75" y="145.6" width="13.25" height="19.9" fill="url(#pLia)"/><rect x="506.75" y="165.5" width="13.25" height="19" fill="url(#pFuj)"/><rect x="506.75" y="184.5" width="13.25" height="45.3" fill="url(#pSha)"/><line x1="506.75" y1="108.25" x2="520" y2="108.25" stroke="#1a1a1a" stroke-width="0.8"/><line x1="506.75" y1="111.3" x2="520" y2="111.3" stroke="#1a1a1a" stroke-width="0.8"/><line x1="506.75" y1="117.3" x2="520" y2="117.3" stroke="#1a1a1a" stroke-width="0.8"/><line x1="506.75" y1="126.2" x2="520" y2="126.2" stroke="#1a1a1a" stroke-width="0.8"/><line x1="506.75" y1="131.6" x2="520" y2="131.6" stroke="#1a1a1a" stroke-width="0.8"/><line x1="506.75" y1="145.6" x2="520" y2="145.6" stroke="#1a1a1a" stroke-width="0.8"/><line x1="506.75" y1="165.5" x2="520" y2="165.5" stroke="#1a1a1a" stroke-width="0.8"/><line x1="506.75" y1="184.5" x2="520" y2="184.5" stroke="#1a1a1a" stroke-width="0.8"/><rect x="506.75" y="106.75" width="13.25" height="123.05" fill="none" stroke="#2a2a2a" stroke-width="0.8"/><rect x="521.15" y="98.75" width="13.25" height="1.5" fill="url(#pCock)"/><rect x="521.15" y="100.25" width="13.25" height="4.85" fill="url(#pRaz)"/><rect x="521.15" y="105.1" width="13.25" height="6.7" fill="url(#pMus)"/><rect x="521.15" y="111.8" width="13.25" height="7.3" fill="url(#pSca)"/><rect x="521.15" y="119.1" width="13.25" height="6.2" fill="url(#pClm)"/><rect x="521.15" y="125.3" width="13.25" height="15.4" fill="url(#pOys)"/><rect x="521.15" y="140.7" width="13.25" height="20.6" fill="url(#pLia)"/><rect x="521.15" y="161.3" width="13.25" height="19.6" fill="url(#pFuj)"/><rect x="521.15" y="180.9" width="13.25" height="48.9" fill="url(#pSha)"/><line x1="521.15" y1="100.25" x2="534.4" y2="100.25" stroke="#1a1a1a" stroke-width="0.8"/><line x1="521.15" y1="105.1" x2="534.4" y2="105.1" stroke="#1a1a1a" stroke-width="0.8"/><line x1="521.15" y1="111.8" x2="534.4" y2="111.8" stroke="#1a1a1a" stroke-width="0.8"/><line x1="521.15" y1="119.1" x2="534.4" y2="119.1" stroke="#1a1a1a" stroke-width="0.8"/><line x1="521.15" y1="125.3" x2="534.4" y2="125.3" stroke="#1a1a1a" stroke-width="0.8"/><line x1="521.15" y1="140.7" x2="534.4" y2="140.7" stroke="#1a1a1a" stroke-width="0.8"/><line x1="521.15" y1="161.3" x2="534.4" y2="161.3" stroke="#1a1a1a" stroke-width="0.8"/><line x1="521.15" y1="180.9" x2="534.4" y2="180.9" stroke="#1a1a1a" stroke-width="0.8"/><rect x="521.15" y="98.75" width="13.25" height="131.05" fill="none" stroke="#2a2a2a" stroke-width="0.8"/><rect x="535.55" y="87.35" width="13.25" height="1.5" fill="url(#pCock)"/><rect x="535.55" y="88.85" width="13.25" height="6.35" fill="url(#pRaz)"/><rect x="535.55" y="95.2" width="13.25" height="6.3" fill="url(#pMus)"/><rect x="535.55" y="101.5" width="13.25" height="8.5" fill="url(#pSca)"/><rect x="535.55" y="110" width="13.25" height="6.4" fill="url(#pClm)"/><rect x="535.55" y="116.4" width="13.25" height="15.8" fill="url(#pOys)"/><rect x="535.55" y="132.2" width="13.25" height="28.1" fill="url(#pLia)"/><rect x="535.55" y="160.3" width="13.25" height="19.7" fill="url(#pFuj)"/><rect x="535.55" y="180" width="13.25" height="49.8" fill="url(#pSha)"/><line x1="535.55" y1="88.85" x2="548.8" y2="88.85" stroke="#1a1a1a" stroke-width="0.8"/><line x1="535.55" y1="95.2" x2="548.8" y2="95.2" stroke="#1a1a1a" stroke-width="0.8"/><line x1="535.55" y1="101.5" x2="548.8" y2="101.5" stroke="#1a1a1a" stroke-width="0.8"/><line x1="535.55" y1="110" x2="548.8" y2="110" stroke="#1a1a1a" stroke-width="0.8"/><line x1="535.55" y1="116.4" x2="548.8" y2="116.4" stroke="#1a1a1a" stroke-width="0.8"/><line x1="535.55" y1="132.2" x2="548.8" y2="132.2" stroke="#1a1a1a" stroke-width="0.8"/><line x1="535.55" y1="160.3" x2="548.8" y2="160.3" stroke="#1a1a1a" stroke-width="0.8"/><line x1="535.55" y1="180" x2="548.8" y2="180" stroke="#1a1a1a" stroke-width="0.8"/><rect x="535.55" y="87.35" width="13.25" height="142.45" fill="none" stroke="#2a2a2a" stroke-width="0.8"/><rect x="549.95" y="88.35" width="13.25" height="1.5" fill="url(#pCock)"/><rect x="549.95" y="89.85" width="13.25" height="6.35" fill="url(#pRaz)"/><rect x="549.95" y="96.2" width="13.25" height="6.5" fill="url(#pMus)"/><rect x="549.95" y="102.7" width="13.25" height="8.2" fill="url(#pSca)"/><rect x="549.95" y="110.9" width="13.25" height="6.9" fill="url(#pClm)"/><rect x="549.95" y="117.8" width="13.25" height="15.7" fill="url(#pOys)"/><rect x="549.95" y="133.5" width="13.25" height="25.5" fill="url(#pLia)"/><rect x="549.95" y="159" width="13.25" height="20.1" fill="url(#pFuj)"/><rect x="549.95" y="179.1" width="13.25" height="50.7" fill="url(#pSha)"/><line x1="549.95" y1="89.85" x2="563.2" y2="89.85" stroke="#1a1a1a" stroke-width="0.8"/><line x1="549.95" y1="96.2" x2="563.2" y2="96.2" stroke="#1a1a1a" stroke-width="0.8"/><line x1="549.95" y1="102.7" x2="563.2" y2="102.7" stroke="#1a1a1a" stroke-width="0.8"/><line x1="549.95" y1="110.9" x2="563.2" y2="110.9" stroke="#1a1a1a" stroke-width="0.8"/><line x1="549.95" y1="117.8" x2="563.2" y2="117.8" stroke="#1a1a1a" stroke-width="0.8"/><line x1="549.95" y1="133.5" x2="563.2" y2="133.5" stroke="#1a1a1a" stroke-width="0.8"/><line x1="549.95" y1="159" x2="563.2" y2="159" stroke="#1a1a1a" stroke-width="0.8"/><line x1="549.95" y1="179.1" x2="563.2" y2="179.1" stroke="#1a1a1a" stroke-width="0.8"/><rect x="549.95" y="88.35" width="13.25" height="141.45" fill="none" stroke="#2a2a2a" stroke-width="0.8"/><rect x="564.35" y="81.65" width="13.25" height="1.5" fill="url(#pCock)"/><rect x="564.35" y="83.15" width="13.25" height="7.85" fill="url(#pRaz)"/><rect x="564.35" y="91" width="13.25" height="7.2" fill="url(#pMus)"/><rect x="564.35" y="98.2" width="13.25" height="8.2" fill="url(#pSca)"/><rect x="564.35" y="106.4" width="13.25" height="7.2" fill="url(#pClm)"/><rect x="564.35" y="113.6" width="13.25" height="16.8" fill="url(#pOys)"/><rect x="564.35" y="130.4" width="13.25" height="26.8" fill="url(#pLia)"/><rect x="564.35" y="157.2" width="13.25" height="20.1" fill="url(#pFuj)"/><rect x="564.35" y="177.3" width="13.25" height="52.5" fill="url(#pSha)"/><line x1="564.35" y1="83.15" x2="577.6" y2="83.15" stroke="#1a1a1a" stroke-width="0.8"/><line x1="564.35" y1="91" x2="577.6" y2="91" stroke="#1a1a1a" stroke-width="0.8"/><line x1="564.35" y1="98.2" x2="577.6" y2="98.2" stroke="#1a1a1a" stroke-width="0.8"/><line x1="564.35" y1="106.4" x2="577.6" y2="106.4" stroke="#1a1a1a" stroke-width="0.8"/><line x1="564.35" y1="113.6" x2="577.6" y2="113.6" stroke="#1a1a1a" stroke-width="0.8"/><line x1="564.35" y1="130.4" x2="577.6" y2="130.4" stroke="#1a1a1a" stroke-width="0.8"/><line x1="564.35" y1="157.2" x2="577.6" y2="157.2" stroke="#1a1a1a" stroke-width="0.8"/><line x1="564.35" y1="177.3" x2="577.6" y2="177.3" stroke="#1a1a1a" stroke-width="0.8"/><rect x="564.35" y="81.65" width="13.25" height="148.15" fill="none" stroke="#2a2a2a" stroke-width="0.8"/><rect x="578.75" y="71.45" width="13.25" height="1.5" fill="url(#pCock)"/><rect x="578.75" y="72.95" width="13.25" height="10.45" fill="url(#pRaz)"/><rect x="578.75" y="83.4" width="13.25" height="7" fill="url(#pMus)"/><rect x="578.75" y="90.4" width="13.25" height="8.7" fill="url(#pSca)"/><rect x="578.75" y="99.1" width="13.25" height="7.3" fill="url(#pClm)"/><rect x="578.75" y="106.4" width="13.25" height="17" fill="url(#pOys)"/><rect x="578.75" y="123.4" width="13.25" height="30" fill="url(#pLia)"/><rect x="578.75" y="153.4" width="13.25" height="21.7" fill="url(#pFuj)"/><rect x="578.75" y="175.1" width="13.25" height="54.7" fill="url(#pSha)"/><line x1="578.75" y1="72.95" x2="592" y2="72.95" stroke="#1a1a1a" stroke-width="0.8"/><line x1="578.75" y1="83.4" x2="592" y2="83.4" stroke="#1a1a1a" stroke-width="0.8"/><line x1="578.75" y1="90.4" x2="592" y2="90.4" stroke="#1a1a1a" stroke-width="0.8"/><line x1="578.75" y1="99.1" x2="592" y2="99.1" stroke="#1a1a1a" stroke-width="0.8"/><line x1="578.75" y1="106.4" x2="592" y2="106.4" stroke="#1a1a1a" stroke-width="0.8"/><line x1="578.75" y1="123.4" x2="592" y2="123.4" stroke="#1a1a1a" stroke-width="0.8"/><line x1="578.75" y1="153.4" x2="592" y2="153.4" stroke="#1a1a1a" stroke-width="0.8"/><line x1="578.75" y1="175.1" x2="592" y2="175.1" stroke="#1a1a1a" stroke-width="0.8"/><rect x="578.75" y="71.45" width="13.25" height="158.35" fill="none" stroke="#2a2a2a" stroke-width="0.8"/><rect x="593.15" y="65.45" width="13.25" height="1.5" fill="url(#pCock)"/><rect x="593.15" y="66.95" width="13.25" height="11.55" fill="url(#pRaz)"/><rect x="593.15" y="78.5" width="13.25" height="7" fill="url(#pMus)"/><rect x="593.15" y="85.5" width="13.25" height="9" fill="url(#pSca)"/><rect x="593.15" y="94.5" width="13.25" height="7.9" fill="url(#pClm)"/><rect x="593.15" y="102.4" width="13.25" height="18.1" fill="url(#pOys)"/><rect x="593.15" y="120.5" width="13.25" height="31" fill="url(#pLia)"/><rect x="593.15" y="151.5" width="13.25" height="22.5" fill="url(#pFuj)"/><rect x="593.15" y="174" width="13.25" height="55.8" fill="url(#pSha)"/><line x1="593.15" y1="66.95" x2="606.4" y2="66.95" stroke="#1a1a1a" stroke-width="0.8"/><line x1="593.15" y1="78.5" x2="606.4" y2="78.5" stroke="#1a1a1a" stroke-width="0.8"/><line x1="593.15" y1="85.5" x2="606.4" y2="85.5" stroke="#1a1a1a" stroke-width="0.8"/><line x1="593.15" y1="94.5" x2="606.4" y2="94.5" stroke="#1a1a1a" stroke-width="0.8"/><line x1="593.15" y1="102.4" x2="606.4" y2="102.4" stroke="#1a1a1a" stroke-width="0.8"/><line x1="593.15" y1="120.5" x2="606.4" y2="120.5" stroke="#1a1a1a" stroke-width="0.8"/><line x1="593.15" y1="151.5" x2="606.4" y2="151.5" stroke="#1a1a1a" stroke-width="0.8"/><line x1="593.15" y1="174" x2="606.4" y2="174" stroke="#1a1a1a" stroke-width="0.8"/><rect x="593.15" y="65.45" width="13.25" height="164.35" fill="none" stroke="#2a2a2a" stroke-width="0.8"/><rect x="607.55" y="57.95" width="13.25" height="1.5" fill="url(#pCock)"/><rect x="607.55" y="59.45" width="13.25" height="12.35" fill="url(#pRaz)"/><rect x="607.55" y="71.8" width="13.25" height="6.4" fill="url(#pMus)"/><rect x="607.55" y="78.2" width="13.25" height="9.1" fill="url(#pSca)"/><rect x="607.55" y="87.3" width="13.25" height="8.2" fill="url(#pClm)"/><rect x="607.55" y="95.5" width="13.25" height="17.8" fill="url(#pOys)"/><rect x="607.55" y="113.3" width="13.25" height="32.2" fill="url(#pLia)"/><rect x="607.55" y="145.5" width="13.25" height="23.6" fill="url(#pFuj)"/><rect x="607.55" y="169.1" width="13.25" height="60.7" fill="url(#pSha)"/><line x1="607.55" y1="59.45" x2="620.8" y2="59.45" stroke="#1a1a1a" stroke-width="0.8"/><line x1="607.55" y1="71.8" x2="620.8" y2="71.8" stroke="#1a1a1a" stroke-width="0.8"/><line x1="607.55" y1="78.2" x2="620.8" y2="78.2" stroke="#1a1a1a" stroke-width="0.8"/><line x1="607.55" y1="87.3" x2="620.8" y2="87.3" stroke="#1a1a1a" stroke-width="0.8"/><line x1="607.55" y1="95.5" x2="620.8" y2="95.5" stroke="#1a1a1a" stroke-width="0.8"/><line x1="607.55" y1="113.3" x2="620.8" y2="113.3" stroke="#1a1a1a" stroke-width="0.8"/><line x1="607.55" y1="145.5" x2="620.8" y2="145.5" stroke="#1a1a1a" stroke-width="0.8"/><line x1="607.55" y1="169.1" x2="620.8" y2="169.1" stroke="#1a1a1a" stroke-width="0.8"/><rect x="607.55" y="57.95" width="13.25" height="171.85" fill="none" stroke="#2a2a2a" stroke-width="0.8"/><rect x="621.95" y="50.75" width="13.25" height="1.5" fill="url(#pCock)"/><rect x="621.95" y="52.25" width="13.25" height="12.25" fill="url(#pRaz)"/><rect x="621.95" y="64.5" width="13.25" height="5.9" fill="url(#pMus)"/><rect x="621.95" y="70.4" width="13.25" height="10.9" fill="url(#pSca)"/><rect x="621.95" y="81.3" width="13.25" height="7.8" fill="url(#pClm)"/><rect x="621.95" y="89.1" width="13.25" height="19.1" fill="url(#pOys)"/><rect x="621.95" y="108.2" width="13.25" height="33.6" fill="url(#pLia)"/><rect x="621.95" y="141.8" width="13.25" height="24.9" fill="url(#pFuj)"/><rect x="621.95" y="166.7" width="13.25" height="63.1" fill="url(#pSha)"/><line x1="621.95" y1="52.25" x2="635.2" y2="52.25" stroke="#1a1a1a" stroke-width="0.8"/><line x1="621.95" y1="64.5" x2="635.2" y2="64.5" stroke="#1a1a1a" stroke-width="0.8"/><line x1="621.95" y1="70.4" x2="635.2" y2="70.4" stroke="#1a1a1a" stroke-width="0.8"/><line x1="621.95" y1="81.3" x2="635.2" y2="81.3" stroke="#1a1a1a" stroke-width="0.8"/><line x1="621.95" y1="89.1" x2="635.2" y2="89.1" stroke="#1a1a1a" stroke-width="0.8"/><line x1="621.95" y1="108.2" x2="635.2" y2="108.2" stroke="#1a1a1a" stroke-width="0.8"/><line x1="621.95" y1="141.8" x2="635.2" y2="141.8" stroke="#1a1a1a" stroke-width="0.8"/><line x1="621.95" y1="166.7" x2="635.2" y2="166.7" stroke="#1a1a1a" stroke-width="0.8"/><rect x="621.95" y="50.75" width="13.25" height="179.05" fill="none" stroke="#2a2a2a" stroke-width="0.8"/><rect x="636.35" y="44.55" width="13.25" height="1.5" fill="url(#pCock)"/><rect x="636.35" y="46.05" width="13.25" height="13.45" fill="url(#pRaz)"/><rect x="636.35" y="59.5" width="13.25" height="6" fill="url(#pMus)"/><rect x="636.35" y="65.5" width="13.25" height="12.7" fill="url(#pSca)"/><rect x="636.35" y="78.2" width="13.25" height="8.5" fill="url(#pClm)"/><rect x="636.35" y="86.7" width="13.25" height="17.8" fill="url(#pOys)"/><rect x="636.35" y="104.5" width="13.25" height="35" fill="url(#pLia)"/><rect x="636.35" y="139.5" width="13.25" height="25.4" fill="url(#pFuj)"/><rect x="636.35" y="164.9" width="13.25" height="64.9" fill="url(#pSha)"/><line x1="636.35" y1="46.05" x2="649.6" y2="46.05" stroke="#1a1a1a" stroke-width="0.8"/><line x1="636.35" y1="59.5" x2="649.6" y2="59.5" stroke="#1a1a1a" stroke-width="0.8"/><line x1="636.35" y1="65.5" x2="649.6" y2="65.5" stroke="#1a1a1a" stroke-width="0.8"/><line x1="636.35" y1="78.2" x2="649.6" y2="78.2" stroke="#1a1a1a" stroke-width="0.8"/><line x1="636.35" y1="86.7" x2="649.6" y2="86.7" stroke="#1a1a1a" stroke-width="0.8"/><line x1="636.35" y1="104.5" x2="649.6" y2="104.5" stroke="#1a1a1a" stroke-width="0.8"/><line x1="636.35" y1="139.5" x2="649.6" y2="139.5" stroke="#1a1a1a" stroke-width="0.8"/><line x1="636.35" y1="164.9" x2="649.6" y2="164.9" stroke="#1a1a1a" stroke-width="0.8"/><rect x="636.35" y="44.55" width="13.25" height="185.25" fill="none" stroke="#2a2a2a" stroke-width="0.8"/><rect x="650.75" y="46.75" width="13.25" height="1.5" fill="url(#pCock)"/><rect x="650.75" y="48.25" width="13.25" height="11.75" fill="url(#pRaz)"/><rect x="650.75" y="60" width="13.25" height="6" fill="url(#pMus)"/><rect x="650.75" y="66" width="13.25" height="12.7" fill="url(#pSca)"/><rect x="650.75" y="78.7" width="13.25" height="8" fill="url(#pClm)"/><rect x="650.75" y="86.7" width="13.25" height="18.2" fill="url(#pOys)"/><rect x="650.75" y="104.9" width="13.25" height="33.3" fill="url(#pLia)"/><rect x="650.75" y="138.2" width="13.25" height="26.7" fill="url(#pFuj)"/><rect x="650.75" y="164.9" width="13.25" height="64.9" fill="url(#pSha)"/><line x1="650.75" y1="48.25" x2="664" y2="48.25" stroke="#1a1a1a" stroke-width="0.8"/><line x1="650.75" y1="60" x2="664" y2="60" stroke="#1a1a1a" stroke-width="0.8"/><line x1="650.75" y1="66" x2="664" y2="66" stroke="#1a1a1a" stroke-width="0.8"/><line x1="650.75" y1="78.7" x2="664" y2="78.7" stroke="#1a1a1a" stroke-width="0.8"/><line x1="650.75" y1="86.7" x2="664" y2="86.7" stroke="#1a1a1a" stroke-width="0.8"/><line x1="650.75" y1="104.9" x2="664" y2="104.9" stroke="#1a1a1a" stroke-width="0.8"/><line x1="650.75" y1="138.2" x2="664" y2="138.2" stroke="#1a1a1a" stroke-width="0.8"/><line x1="650.75" y1="164.9" x2="664" y2="164.9" stroke="#1a1a1a" stroke-width="0.8"/><rect x="650.75" y="46.75" width="13.25" height="183.05" fill="none" stroke="#2a2a2a" stroke-width="0.8"/><rect x="665.15" y="50.35" width="13.25" height="1.5" fill="url(#pCock)"/><rect x="665.15" y="51.85" width="13.25" height="8.65" fill="url(#pRaz)"/><rect x="665.15" y="60.5" width="13.25" height="5.9" fill="url(#pMus)"/><rect x="665.15" y="66.4" width="13.25" height="13.1" fill="url(#pSca)"/><rect x="665.15" y="79.5" width="13.25" height="8.7" fill="url(#pClm)"/><rect x="665.15" y="88.2" width="13.25" height="18.2" fill="url(#pOys)"/><rect x="665.15" y="106.4" width="13.25" height="33.6" fill="url(#pLia)"/><rect x="665.15" y="140" width="13.25" height="28.7" fill="url(#pFuj)"/><rect x="665.15" y="168.7" width="13.25" height="61.1" fill="url(#pSha)"/><line x1="665.15" y1="51.85" x2="678.4" y2="51.85" stroke="#1a1a1a" stroke-width="0.8"/><line x1="665.15" y1="60.5" x2="678.4" y2="60.5" stroke="#1a1a1a" stroke-width="0.8"/><line x1="665.15" y1="66.4" x2="678.4" y2="66.4" stroke="#1a1a1a" stroke-width="0.8"/><line x1="665.15" y1="79.5" x2="678.4" y2="79.5" stroke="#1a1a1a" stroke-width="0.8"/><line x1="665.15" y1="88.2" x2="678.4" y2="88.2" stroke="#1a1a1a" stroke-width="0.8"/><line x1="665.15" y1="106.4" x2="678.4" y2="106.4" stroke="#1a1a1a" stroke-width="0.8"/><line x1="665.15" y1="140" x2="678.4" y2="140" stroke="#1a1a1a" stroke-width="0.8"/><line x1="665.15" y1="168.7" x2="678.4" y2="168.7" stroke="#1a1a1a" stroke-width="0.8"/><rect x="665.15" y="50.35" width="13.25" height="179.45" fill="none" stroke="#2a2a2a" stroke-width="0.8"/><rect x="679.55" y="47.95" width="13.25" height="1.5" fill="url(#pCock)"/><rect x="679.55" y="49.45" width="13.25" height="10.05" fill="url(#pRaz)"/><rect x="679.55" y="59.5" width="13.25" height="6" fill="url(#pMus)"/><rect x="679.55" y="65.5" width="13.25" height="13.6" fill="url(#pSca)"/><rect x="679.55" y="79.1" width="13.25" height="9.1" fill="url(#pClm)"/><rect x="679.55" y="88.2" width="13.25" height="17.3" fill="url(#pOys)"/><rect x="679.55" y="105.5" width="13.25" height="32.7" fill="url(#pLia)"/><rect x="679.55" y="138.2" width="13.25" height="29.1" fill="url(#pFuj)"/><rect x="679.55" y="167.3" width="13.25" height="62.5" fill="url(#pSha)"/><line x1="679.55" y1="49.45" x2="692.8" y2="49.45" stroke="#1a1a1a" stroke-width="0.8"/><line x1="679.55" y1="59.5" x2="692.8" y2="59.5" stroke="#1a1a1a" stroke-width="0.8"/><line x1="679.55" y1="65.5" x2="692.8" y2="65.5" stroke="#1a1a1a" stroke-width="0.8"/><line x1="679.55" y1="79.1" x2="692.8" y2="79.1" stroke="#1a1a1a" stroke-width="0.8"/><line x1="679.55" y1="88.2" x2="692.8" y2="88.2" stroke="#1a1a1a" stroke-width="0.8"/><line x1="679.55" y1="105.5" x2="692.8" y2="105.5" stroke="#1a1a1a" stroke-width="0.8"/><line x1="679.55" y1="138.2" x2="692.8" y2="138.2" stroke="#1a1a1a" stroke-width="0.8"/><line x1="679.55" y1="167.3" x2="692.8" y2="167.3" stroke="#1a1a1a" stroke-width="0.8"/><rect x="679.55" y="47.95" width="13.25" height="181.85" fill="none" stroke="#2a2a2a" stroke-width="0.8"/><rect x="693.95" y="42.75" width="13.25" height="1.5" fill="url(#pCock)"/><rect x="693.95" y="44.25" width="13.25" height="11.55" fill="url(#pRaz)"/><rect x="693.95" y="55.8" width="13.25" height="5.5" fill="url(#pMus)"/><rect x="693.95" y="61.3" width="13.25" height="13.5" fill="url(#pSca)"/><rect x="693.95" y="74.8" width="13.25" height="9.7" fill="url(#pClm)"/><rect x="693.95" y="84.5" width="13.25" height="17.3" fill="url(#pOys)"/><rect x="693.95" y="101.8" width="13.25" height="33.7" fill="url(#pLia)"/><rect x="693.95" y="135.5" width="13.25" height="30" fill="url(#pFuj)"/><rect x="693.95" y="165.5" width="13.25" height="64.3" fill="url(#pSha)"/><line x1="693.95" y1="44.25" x2="707.2" y2="44.25" stroke="#1a1a1a" stroke-width="0.8"/><line x1="693.95" y1="55.8" x2="707.2" y2="55.8" stroke="#1a1a1a" stroke-width="0.8"/><line x1="693.95" y1="61.3" x2="707.2" y2="61.3" stroke="#1a1a1a" stroke-width="0.8"/><line x1="693.95" y1="74.8" x2="707.2" y2="74.8" stroke="#1a1a1a" stroke-width="0.8"/><line x1="693.95" y1="84.5" x2="707.2" y2="84.5" stroke="#1a1a1a" stroke-width="0.8"/><line x1="693.95" y1="101.8" x2="707.2" y2="101.8" stroke="#1a1a1a" stroke-width="0.8"/><line x1="693.95" y1="135.5" x2="707.2" y2="135.5" stroke="#1a1a1a" stroke-width="0.8"/><line x1="693.95" y1="165.5" x2="707.2" y2="165.5" stroke="#1a1a1a" stroke-width="0.8"/><rect x="693.95" y="42.75" width="13.25" height="187.05" fill="none" stroke="#2a2a2a" stroke-width="0.8"/><rect x="708.35" y="40.75" width="13.25" height="1.5" fill="url(#pCock)"/><rect x="708.35" y="42.25" width="13.25" height="10.75" fill="url(#pRaz)"/><rect x="708.35" y="53" width="13.25" height="6.1" fill="url(#pMus)"/><rect x="708.35" y="59.1" width="13.25" height="14.3" fill="url(#pSca)"/><rect x="708.35" y="73.4" width="13.25" height="9.7" fill="url(#pClm)"/><rect x="708.35" y="83.1" width="13.25" height="16.9" fill="url(#pOys)"/><rect x="708.35" y="100" width="13.25" height="34.5" fill="url(#pLia)"/><rect x="708.35" y="134.5" width="13.25" height="31" fill="url(#pFuj)"/><rect x="708.35" y="165.5" width="13.25" height="64.3" fill="url(#pSha)"/><line x1="708.35" y1="42.25" x2="721.6" y2="42.25" stroke="#1a1a1a" stroke-width="0.8"/><line x1="708.35" y1="53" x2="721.6" y2="53" stroke="#1a1a1a" stroke-width="0.8"/><line x1="708.35" y1="59.1" x2="721.6" y2="59.1" stroke="#1a1a1a" stroke-width="0.8"/><line x1="708.35" y1="73.4" x2="721.6" y2="73.4" stroke="#1a1a1a" stroke-width="0.8"/><line x1="708.35" y1="83.1" x2="721.6" y2="83.1" stroke="#1a1a1a" stroke-width="0.8"/><line x1="708.35" y1="100" x2="721.6" y2="100" stroke="#1a1a1a" stroke-width="0.8"/><line x1="708.35" y1="134.5" x2="721.6" y2="134.5" stroke="#1a1a1a" stroke-width="0.8"/><line x1="708.35" y1="165.5" x2="721.6" y2="165.5" stroke="#1a1a1a" stroke-width="0.8"/><rect x="708.35" y="40.75" width="13.25" height="189.05" fill="none" stroke="#2a2a2a" stroke-width="0.8"/><rect x="722.75" y="34.15" width="13.25" height="1.5" fill="url(#pCock)"/><rect x="722.75" y="35.65" width="13.25" height="10.85" fill="url(#pRaz)"/><rect x="722.75" y="46.5" width="13.25" height="6.5" fill="url(#pMus)"/><rect x="722.75" y="53" width="13.25" height="15.2" fill="url(#pSca)"/><rect x="722.75" y="68.2" width="13.25" height="10.9" fill="url(#pClm)"/><rect x="722.75" y="79.1" width="13.25" height="16.4" fill="url(#pOys)"/><rect x="722.75" y="95.5" width="13.25" height="36.3" fill="url(#pLia)"/><rect x="722.75" y="131.8" width="13.25" height="31.8" fill="url(#pFuj)"/><rect x="722.75" y="163.6" width="13.25" height="66.2" fill="url(#pSha)"/><line x1="722.75" y1="35.65" x2="736" y2="35.65" stroke="#1a1a1a" stroke-width="0.8"/><line x1="722.75" y1="46.5" x2="736" y2="46.5" stroke="#1a1a1a" stroke-width="0.8"/><line x1="722.75" y1="53" x2="736" y2="53" stroke="#1a1a1a" stroke-width="0.8"/><line x1="722.75" y1="68.2" x2="736" y2="68.2" stroke="#1a1a1a" stroke-width="0.8"/><line x1="722.75" y1="79.1" x2="736" y2="79.1" stroke="#1a1a1a" stroke-width="0.8"/><line x1="722.75" y1="95.5" x2="736" y2="95.5" stroke="#1a1a1a" stroke-width="0.8"/><line x1="722.75" y1="131.8" x2="736" y2="131.8" stroke="#1a1a1a" stroke-width="0.8"/><line x1="722.75" y1="163.6" x2="736" y2="163.6" stroke="#1a1a1a" stroke-width="0.8"/><rect x="722.75" y="34.15" width="13.25" height="195.65" fill="none" stroke="#2a2a2a" stroke-width="0.8"/><line x1="433.3" y1="1" x2="433.3" y2="230.2" stroke="#808080" stroke-width="1.4"/><line x1="433.3" y1="229.8" x2="752" y2="229.8" stroke="#505050" stroke-width="1.2"/>
<text x="25" y="19.05" font-size="6.3" font-weight="bold" text-anchor="end" fill="#000" stroke="#000" stroke-width="0.2">80</text><text x="25" y="72.35" font-size="6.3" font-weight="bold" text-anchor="end" fill="#000" stroke="#000" stroke-width="0.2">60</text><text x="25" y="125.85" font-size="6.3" font-weight="bold" text-anchor="end" fill="#000" stroke="#000" stroke-width="0.2">40</text><text x="25" y="179.25" font-size="6.3" font-weight="bold" text-anchor="end" fill="#000" stroke="#000" stroke-width="0.2">20</text><text x="25" y="232.95" font-size="6.3" font-weight="bold" text-anchor="end" fill="#000" stroke="#000" stroke-width="0.2">0</text>
<text x="430.4" y="15.95" font-size="6.3" font-weight="bold" text-anchor="end" fill="#000" stroke="#000" stroke-width="0.2">80</text><text x="430.4" y="70.15" font-size="6.3" font-weight="bold" text-anchor="end" fill="#000" stroke="#000" stroke-width="0.2">60</text><text x="430.4" y="124.35" font-size="6.3" font-weight="bold" text-anchor="end" fill="#000" stroke="#000" stroke-width="0.2">40</text><text x="430.4" y="178.65" font-size="6.3" font-weight="bold" text-anchor="end" fill="#000" stroke="#000" stroke-width="0.2">20</text><text x="430.4" y="232.95" font-size="6.3" font-weight="bold" text-anchor="end" fill="#000" stroke="#000" stroke-width="0.2">0</text>
<text transform="translate(47.7,232.7) rotate(90)" font-size="6.1" font-weight="bold" fill="#000" stroke="#000" stroke-width="0.15">2004</text><text transform="translate(61.89,232.7) rotate(90)" font-size="6.1" font-weight="bold" fill="#000" stroke="#000" stroke-width="0.15">2005</text><text transform="translate(76.08,232.7) rotate(90)" font-size="6.1" font-weight="bold" fill="#000" stroke="#000" stroke-width="0.15">2006</text><text transform="translate(90.27,232.7) rotate(90)" font-size="6.1" font-weight="bold" fill="#000" stroke="#000" stroke-width="0.15">2007</text><text transform="translate(104.46,232.7) rotate(90)" font-size="6.1" font-weight="bold" fill="#000" stroke="#000" stroke-width="0.15">2008</text><text transform="translate(118.65,232.7) rotate(90)" font-size="6.1" font-weight="bold" fill="#000" stroke="#000" stroke-width="0.15">2009</text><text transform="translate(132.84,232.7) rotate(90)" font-size="6.1" font-weight="bold" fill="#000" stroke="#000" stroke-width="0.15">2010</text><text transform="translate(147.03,232.7) rotate(90)" font-size="6.1" font-weight="bold" fill="#000" stroke="#000" stroke-width="0.15">2011</text><text transform="translate(161.22,232.7) rotate(90)" font-size="6.1" font-weight="bold" fill="#000" stroke="#000" stroke-width="0.15">2012</text><text transform="translate(175.41,232.7) rotate(90)" font-size="6.1" font-weight="bold" fill="#000" stroke="#000" stroke-width="0.15">2013</text><text transform="translate(189.6,232.7) rotate(90)" font-size="6.1" font-weight="bold" fill="#000" stroke="#000" stroke-width="0.15">2014</text><text transform="translate(203.79,232.7) rotate(90)" font-size="6.1" font-weight="bold" fill="#000" stroke="#000" stroke-width="0.15">2015</text><text transform="translate(217.98,232.7) rotate(90)" font-size="6.1" font-weight="bold" fill="#000" stroke="#000" stroke-width="0.15">2016</text><text transform="translate(232.17,232.7) rotate(90)" font-size="6.1" font-weight="bold" fill="#000" stroke="#000" stroke-width="0.15">2017</text><text transform="translate(246.36,232.7) rotate(90)" font-size="6.1" font-weight="bold" fill="#000" stroke="#000" stroke-width="0.15">2018</text><text transform="translate(260.55,232.7) rotate(90)" font-size="6.1" font-weight="bold" fill="#000" stroke="#000" stroke-width="0.15">2019</text><text transform="translate(274.74,232.7) rotate(90)" font-size="6.1" font-weight="bold" fill="#000" stroke="#000" stroke-width="0.15">2020</text><text transform="translate(288.93,232.7) rotate(90)" font-size="6.1" font-weight="bold" fill="#000" stroke="#000" stroke-width="0.15">2021</text><text transform="translate(303.12,232.7) rotate(90)" font-size="6.1" font-weight="bold" fill="#000" stroke="#000" stroke-width="0.15">2022</text><text transform="translate(317.31,232.7) rotate(90)" font-size="6.1" font-weight="bold" fill="#000" stroke="#000" stroke-width="0.15">2023</text>
<text transform="translate(452.95,232) rotate(90)" font-size="6.3" font-weight="bold" fill="#000" stroke="#000" stroke-width="0.15">2004</text><text transform="translate(467.35,232) rotate(90)" font-size="6.3" font-weight="bold" fill="#000" stroke="#000" stroke-width="0.15">2005</text><text transform="translate(481.75,232) rotate(90)" font-size="6.3" font-weight="bold" fill="#000" stroke="#000" stroke-width="0.15">2006</text><text transform="translate(496.15,232) rotate(90)" font-size="6.3" font-weight="bold" fill="#000" stroke="#000" stroke-width="0.15">2007</text><text transform="translate(510.55,232) rotate(90)" font-size="6.3" font-weight="bold" fill="#000" stroke="#000" stroke-width="0.15">2008</text><text transform="translate(524.95,232) rotate(90)" font-size="6.3" font-weight="bold" fill="#000" stroke="#000" stroke-width="0.15">2009</text><text transform="translate(539.35,232) rotate(90)" font-size="6.3" font-weight="bold" fill="#000" stroke="#000" stroke-width="0.15">2010</text><text transform="translate(553.75,232) rotate(90)" font-size="6.3" font-weight="bold" fill="#000" stroke="#000" stroke-width="0.15">2011</text><text transform="translate(568.15,232) rotate(90)" font-size="6.3" font-weight="bold" fill="#000" stroke="#000" stroke-width="0.15">2012</text><text transform="translate(582.55,232) rotate(90)" font-size="6.3" font-weight="bold" fill="#000" stroke="#000" stroke-width="0.15">2013</text><text transform="translate(596.95,232) rotate(90)" font-size="6.3" font-weight="bold" fill="#000" stroke="#000" stroke-width="0.15">2014</text><text transform="translate(611.35,232) rotate(90)" font-size="6.3" font-weight="bold" fill="#000" stroke="#000" stroke-width="0.15">2015</text><text transform="translate(625.75,232) rotate(90)" font-size="6.3" font-weight="bold" fill="#000" stroke="#000" stroke-width="0.15">2016</text><text transform="translate(640.15,232) rotate(90)" font-size="6.3" font-weight="bold" fill="#000" stroke="#000" stroke-width="0.15">2017</text><text transform="translate(654.55,232) rotate(90)" font-size="6.3" font-weight="bold" fill="#000" stroke="#000" stroke-width="0.15">2018</text><text transform="translate(668.95,232) rotate(90)" font-size="6.3" font-weight="bold" fill="#000" stroke="#000" stroke-width="0.15">2019</text><text transform="translate(683.35,232) rotate(90)" font-size="6.3" font-weight="bold" fill="#000" stroke="#000" stroke-width="0.15">2020</text><text transform="translate(697.75,232) rotate(90)" font-size="6.3" font-weight="bold" fill="#000" stroke="#000" stroke-width="0.15">2021</text><text transform="translate(712.15,232) rotate(90)" font-size="6.3" font-weight="bold" fill="#000" stroke="#000" stroke-width="0.15">2022</text><text transform="translate(726.55,232) rotate(90)" font-size="6.3" font-weight="bold" fill="#000" stroke="#000" stroke-width="0.15">2023</text>
<text transform="translate(8.6,202.7) rotate(-90)" font-size="8.8" font-weight="bold" fill="#000" stroke="#000" stroke-width="0.35">Essential amino acids (thousand tonnes)</text>
<text transform="translate(413.9,201.6) rotate(-90)" font-size="8.9" font-weight="bold" fill="#000" stroke="#000" stroke-width="0.35">Essential amino acids (thousand tonnes)</text>
<text x="175.6" y="261.4" font-size="9.1" font-weight="bold" fill="#000" stroke="#000" stroke-width="0.35">Year</text>
<text x="582.9" y="261.4" font-size="9.3" font-weight="bold" fill="#000" stroke="#000" stroke-width="0.35">Year</text>
<text x="352" y="15.9" font-size="8.75" font-weight="bold" fill="#000" stroke="#000" stroke-width="0.3">Species</text><rect x="344.8" y="22.3" width="6.3" height="6.4" fill="url(#pCock)" stroke="#111" stroke-width="1"/><text x="352.6" y="28.9" font-size="7.25" fill="#000" stroke="#000" stroke-width="0.28">Cockles</text><rect x="344.8" y="31.64" width="6.3" height="6.4" fill="url(#pRaz)" stroke="#111" stroke-width="1"/><text x="352.6" y="38.05" font-size="7.25" fill="#000" stroke="#000" stroke-width="0.28">Razor clams</text><rect x="344.8" y="40.98" width="6.3" height="6.4" fill="url(#pMus)" stroke="#111" stroke-width="1"/><text x="352.6" y="47.2" font-size="7.25" fill="#000" stroke="#000" stroke-width="0.28">Mussels</text><rect x="344.8" y="50.32" width="6.3" height="6.4" fill="url(#pSca)" stroke="#111" stroke-width="1"/><text x="352.6" y="56.35" font-size="7.25" fill="#000" stroke="#000" stroke-width="0.28">Scalops</text><rect x="344.8" y="59.66" width="6.3" height="6.4" fill="url(#pClm)" stroke="#111" stroke-width="1"/><text x="352.6" y="65.5" font-size="7.25" fill="#000" stroke="#000" stroke-width="0.28">Clams</text><rect x="344.8" y="69" width="6.3" height="6.4" fill="url(#pOys)" stroke="#111" stroke-width="1"/><text x="352.6" y="74.65" font-size="7.25" fill="#000" stroke="#000" stroke-width="0.28">Oysters</text>
<text x="757.9" y="12.7" font-size="9.1" font-weight="bold" fill="#000" stroke="#000" stroke-width="0.3">Location</text><rect x="753.6" y="19.3" width="6.7" height="6.3" fill="url(#pCock)" stroke="#111" stroke-width="1"/><text x="762.5" y="25.6" font-size="7.1" fill="#000" stroke="#000" stroke-width="0.36">Hainan</text><rect x="753.6" y="28.58" width="6.7" height="6.3" fill="url(#pRaz)" stroke="#111" stroke-width="1"/><text x="762.5" y="34.86" font-size="7.1" fill="#000" stroke="#000" stroke-width="0.36">Hebei</text><rect x="753.6" y="37.85" width="6.7" height="6.3" fill="url(#pMus)" stroke="#111" stroke-width="1"/><text x="762.5" y="44.12" font-size="7.1" fill="#000" stroke="#000" stroke-width="0.36">Jiangsu</text><rect x="753.6" y="47.12" width="6.7" height="6.3" fill="url(#pSca)" stroke="#111" stroke-width="1"/><text x="762.5" y="53.38" font-size="7.1" fill="#000" stroke="#000" stroke-width="0.36">Zhejiang</text><rect x="753.6" y="56.4" width="6.7" height="6.3" fill="url(#pClm)" stroke="#111" stroke-width="1"/><text x="762.5" y="62.64" font-size="7.1" fill="#000" stroke="#000" stroke-width="0.36">Guangxi</text><rect x="753.6" y="65.67" width="6.7" height="6.3" fill="url(#pOys)" stroke="#111" stroke-width="1"/><text x="762.5" y="71.9" font-size="7.1" fill="#000" stroke="#000" stroke-width="0.36">Guangdong</text><rect x="753.6" y="74.95" width="6.7" height="6.3" fill="url(#pLia)" stroke="#111" stroke-width="1"/><text x="762.5" y="81.16" font-size="7.1" fill="#000" stroke="#000" stroke-width="0.36">Liaoning</text><rect x="753.6" y="84.22" width="6.7" height="6.3" fill="url(#pFuj)" stroke="#111" stroke-width="1"/><text x="762.5" y="90.42" font-size="7.1" fill="#000" stroke="#000" stroke-width="0.36">Fujian</text><rect x="753.6" y="93.5" width="6.7" height="6.3" fill="url(#pSha)" stroke="#111" stroke-width="1"/><text x="762.5" y="99.68" font-size="7.1" fill="#000" stroke="#000" stroke-width="0.36">Shandong</text>
<rect x="2.1" y="236.8" width="36.4" height="26.4" fill="none" stroke="#000" stroke-width="1.8"/>
<text x="20.2" y="256.2" font-size="17.5" text-anchor="middle" fill="#000" stroke="#000" stroke-width="0.6">A</text>
<rect x="406.4" y="236.8" width="37" height="26.6" fill="none" stroke="#000" stroke-width="1.8"/>
<text x="425" y="255.6" font-size="17.5" text-anchor="middle" fill="#000" stroke="#000" stroke-width="0.6">B</text>
</svg></body></html>
